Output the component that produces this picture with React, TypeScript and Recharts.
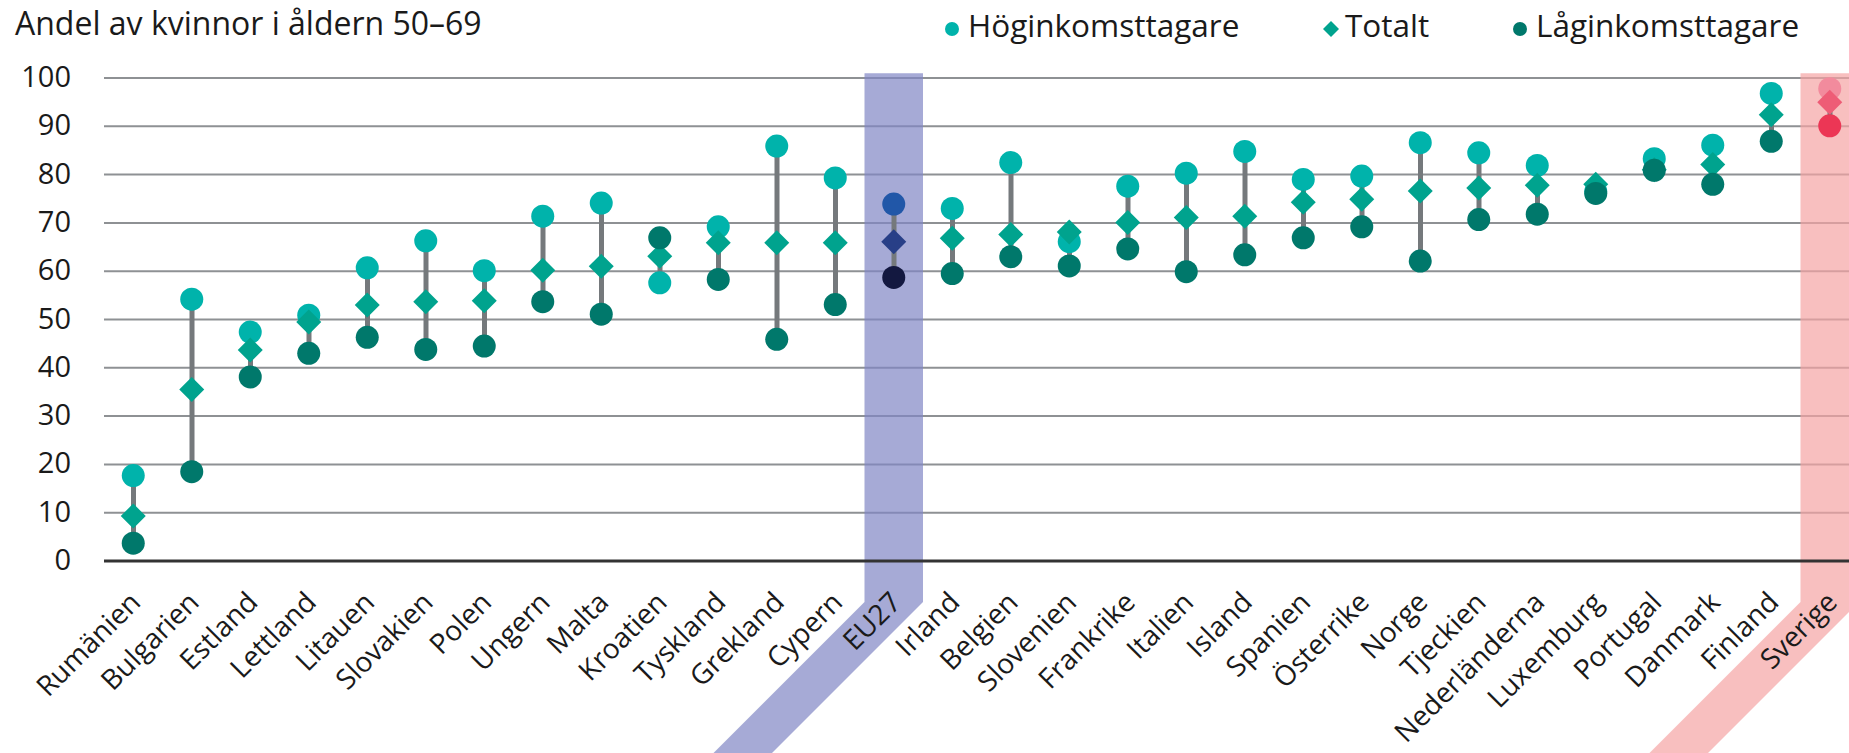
import React from 'react'
import {
  ComposedChart, Bar, Line, XAxis, YAxis, CartesianGrid, ReferenceArea,
} from 'recharts'

const CATEGORIES = [
  'Rumänien', 'Bulgarien', 'Estland', 'Lettland', 'Litauen', 'Slovakien', 'Polen', 'Ungern',
  'Malta', 'Kroatien', 'Tyskland', 'Grekland', 'Cypern', 'EU27', 'Irland', 'Belgien',
  'Slovenien', 'Frankrike', 'Italien', 'Island', 'Spanien', 'Österrike', 'Norge', 'Tjeckien',
  'Nederländerna', 'Luxemburg', 'Portugal', 'Danmark', 'Finland', 'Sverige',
]

// Höginkomsttagare
const HIGH = [
  17.7, 54.2, 47.4, 50.9, 60.7, 66.3, 60.1, 71.4, 74.1, 57.6, 69.2, 85.9, 79.3, 73.9, 73.0,
  82.5, 66.1, 77.6, 80.3, 84.8, 79.0, 79.7, 86.6, 84.5, 81.9, 76.5, 83.3, 86.1, 96.8, 97.8,
]
// Totalt
const TOTAL = [
  9.3, 35.5, 43.7, 49.5, 53.0, 53.7, 53.9, 60.2, 61.0, 63.1, 65.9, 65.9, 65.9, 66.1, 66.8,
  67.6, 68.1, 70.1, 71.1, 71.4, 74.3, 74.9, 76.6, 77.2, 77.8, 78.0, 81.0, 82.1, 92.4, 95.0,
]
// Låginkomsttagare
const LOW = [
  3.7, 18.5, 38.1, 43.0, 46.3, 43.8, 44.5, 53.7, 51.1, 66.9, 58.3, 45.9, 53.1, 58.7, 59.5,
  63.0, 61.1, 64.6, 59.9, 63.4, 66.9, 69.2, 62.1, 70.7, 71.8, 76.1, 80.9, 78.0, 86.9, 90.1,
]

const Y_TICKS = [0, 10, 20, 30, 40, 50, 60, 70, 80, 90, 100]

const FONT = '"Open Sans", sans-serif'
const TEXT = '#1a1a1a'

const BASE = { high: '#00b3ab', total: '#00a38e', low: '#00786b' }
const EU = { high: '#2157a8', total: '#283f87', low: '#131840' }
const SE = { high: '#f28b9d', total: '#ee5c76', low: '#ec3655' }

const colorsFor = (name: string) => (name === 'EU27' ? EU : name === 'Sverige' ? SE : BASE)

const data = CATEGORIES.map((name, i) => ({
  name,
  high: HIGH[i],
  total: TOTAL[i],
  low: LOW[i],
  range: [Math.min(LOW[i], HIGH[i]), Math.max(LOW[i], HIGH[i])],
}))

const renderCircle = (key: 'high' | 'low') => (props: any) => {
  const { cx, cy, payload, index } = props
  if (cx == null || cy == null) return <g key={`${key}-${index}`} />
  return <circle key={`${key}-${index}`} cx={cx} cy={cy} r={11.5} fill={colorsFor(payload.name)[key]} />
}

const renderDiamond = (props: any) => {
  const { cx, cy, payload, index } = props
  if (cx == null || cy == null) return <g key={`total-${index}`} />
  const h = 12.5
  return (
    <path
      key={`total-${index}`}
      d={`M${cx},${cy - h} L${cx + h},${cy} L${cx},${cy + h} L${cx - h},${cy} Z`}
      fill={colorsFor(payload.name).total}
    />
  )
}

// highlight band: column over the category, then bends down-left along the label
const bandShape = (color: string) => (props: any) => {
  const { x, y, width, height } = props
  const knee = y + height + 41
  const drop = 760 - knee
  const d = `M${x},${y} H${x + width} V${knee} L${x + width - drop},${knee + drop} H${x - drop} L${x},${knee} Z`
  return <path d={d} fill={color} fillOpacity={0.7} />
}

function XTick({ x, y, payload }: any) {
  const tx = x + 9
  const ty = y + 43
  return (
    <text
      x={tx} y={ty} textAnchor="end" transform={`rotate(-45, ${tx}, ${ty})`}
      fontFamily={FONT} fontSize={28} fill={TEXT}
    >
      {payload.value}
    </text>
  )
}

function YTick({ x, y, payload }: any) {
  return (
    <text x={x - 33} y={y + 9} textAnchor="end" fontFamily={FONT} fontSize={29} fill={TEXT}>
      {payload.value}
    </text>
  )
}

export default function App() {
  return (
    <div style={{ position: 'absolute', left: 0, top: 0, width: 1849, height: 753, overflow: 'hidden', background: '#fff' }}>
      <ComposedChart
        width={1859}
        height={753}
        data={data}
        margin={{ top: 78, right: 0, bottom: 0, left: 0 }}
      >
        <CartesianGrid vertical={false} stroke="#8e9194" strokeWidth={2} />
        <ReferenceArea x1="EU27" x2="EU27" y1={0} y2={101} ifOverflow="visible" shape={bandShape('#8086c4')} />
        <ReferenceArea x1="Sverige" x2="Sverige" y1={0} y2={101} ifOverflow="visible" shape={bandShape('#f5a4a4')} />
        <XAxis
          dataKey="name"
          interval={0}
          height={192}
          tickLine={false}
          tickSize={0}
          tickMargin={0}
          axisLine={{ stroke: '#333', strokeWidth: 3 }}
          tick={<XTick />}
        />
        <YAxis
          width={104}
          domain={[0, 100]}
          ticks={Y_TICKS}
          axisLine={false}
          tickLine={false}
          tickSize={0}
          tickMargin={0}
          tick={<YTick />}
        />
        <Bar dataKey="range" barSize={5} fill="#75797c" isAnimationActive={false} />
        <Line dataKey="high" stroke="none" dot={renderCircle('high')} activeDot={false} isAnimationActive={false} />
        <Line dataKey="total" stroke="none" dot={renderDiamond} activeDot={false} isAnimationActive={false} />
        <Line dataKey="low" stroke="none" dot={renderCircle('low')} activeDot={false} isAnimationActive={false} />
      </ComposedChart>
      <svg width={1849} height={60} style={{ position: 'absolute', left: 0, top: 0, pointerEvents: 'none' }}>
        <text x={15} y={35} fontFamily={FONT} fontSize={32} fill={TEXT}>Andel av kvinnor i åldern 50–69</text>
        <circle cx={952} cy={29} r={7} fill={BASE.high} />
        <text x={968} y={37} fontFamily={FONT} fontSize={31.5} fill={TEXT}>Höginkomsttagare</text>
        <path d="M1331,21 L1339,29 L1331,37 L1323,29 Z" fill={BASE.total} />
        <text x={1345} y={37} fontFamily={FONT} fontSize={31.5} fill={TEXT}>Totalt</text>
        <circle cx={1520} cy={29} r={7} fill={BASE.low} />
        <text x={1536} y={37} fontFamily={FONT} fontSize={31.5} fill={TEXT}>Låginkomsttagare</text>
      </svg>
    </div>
  )
}
